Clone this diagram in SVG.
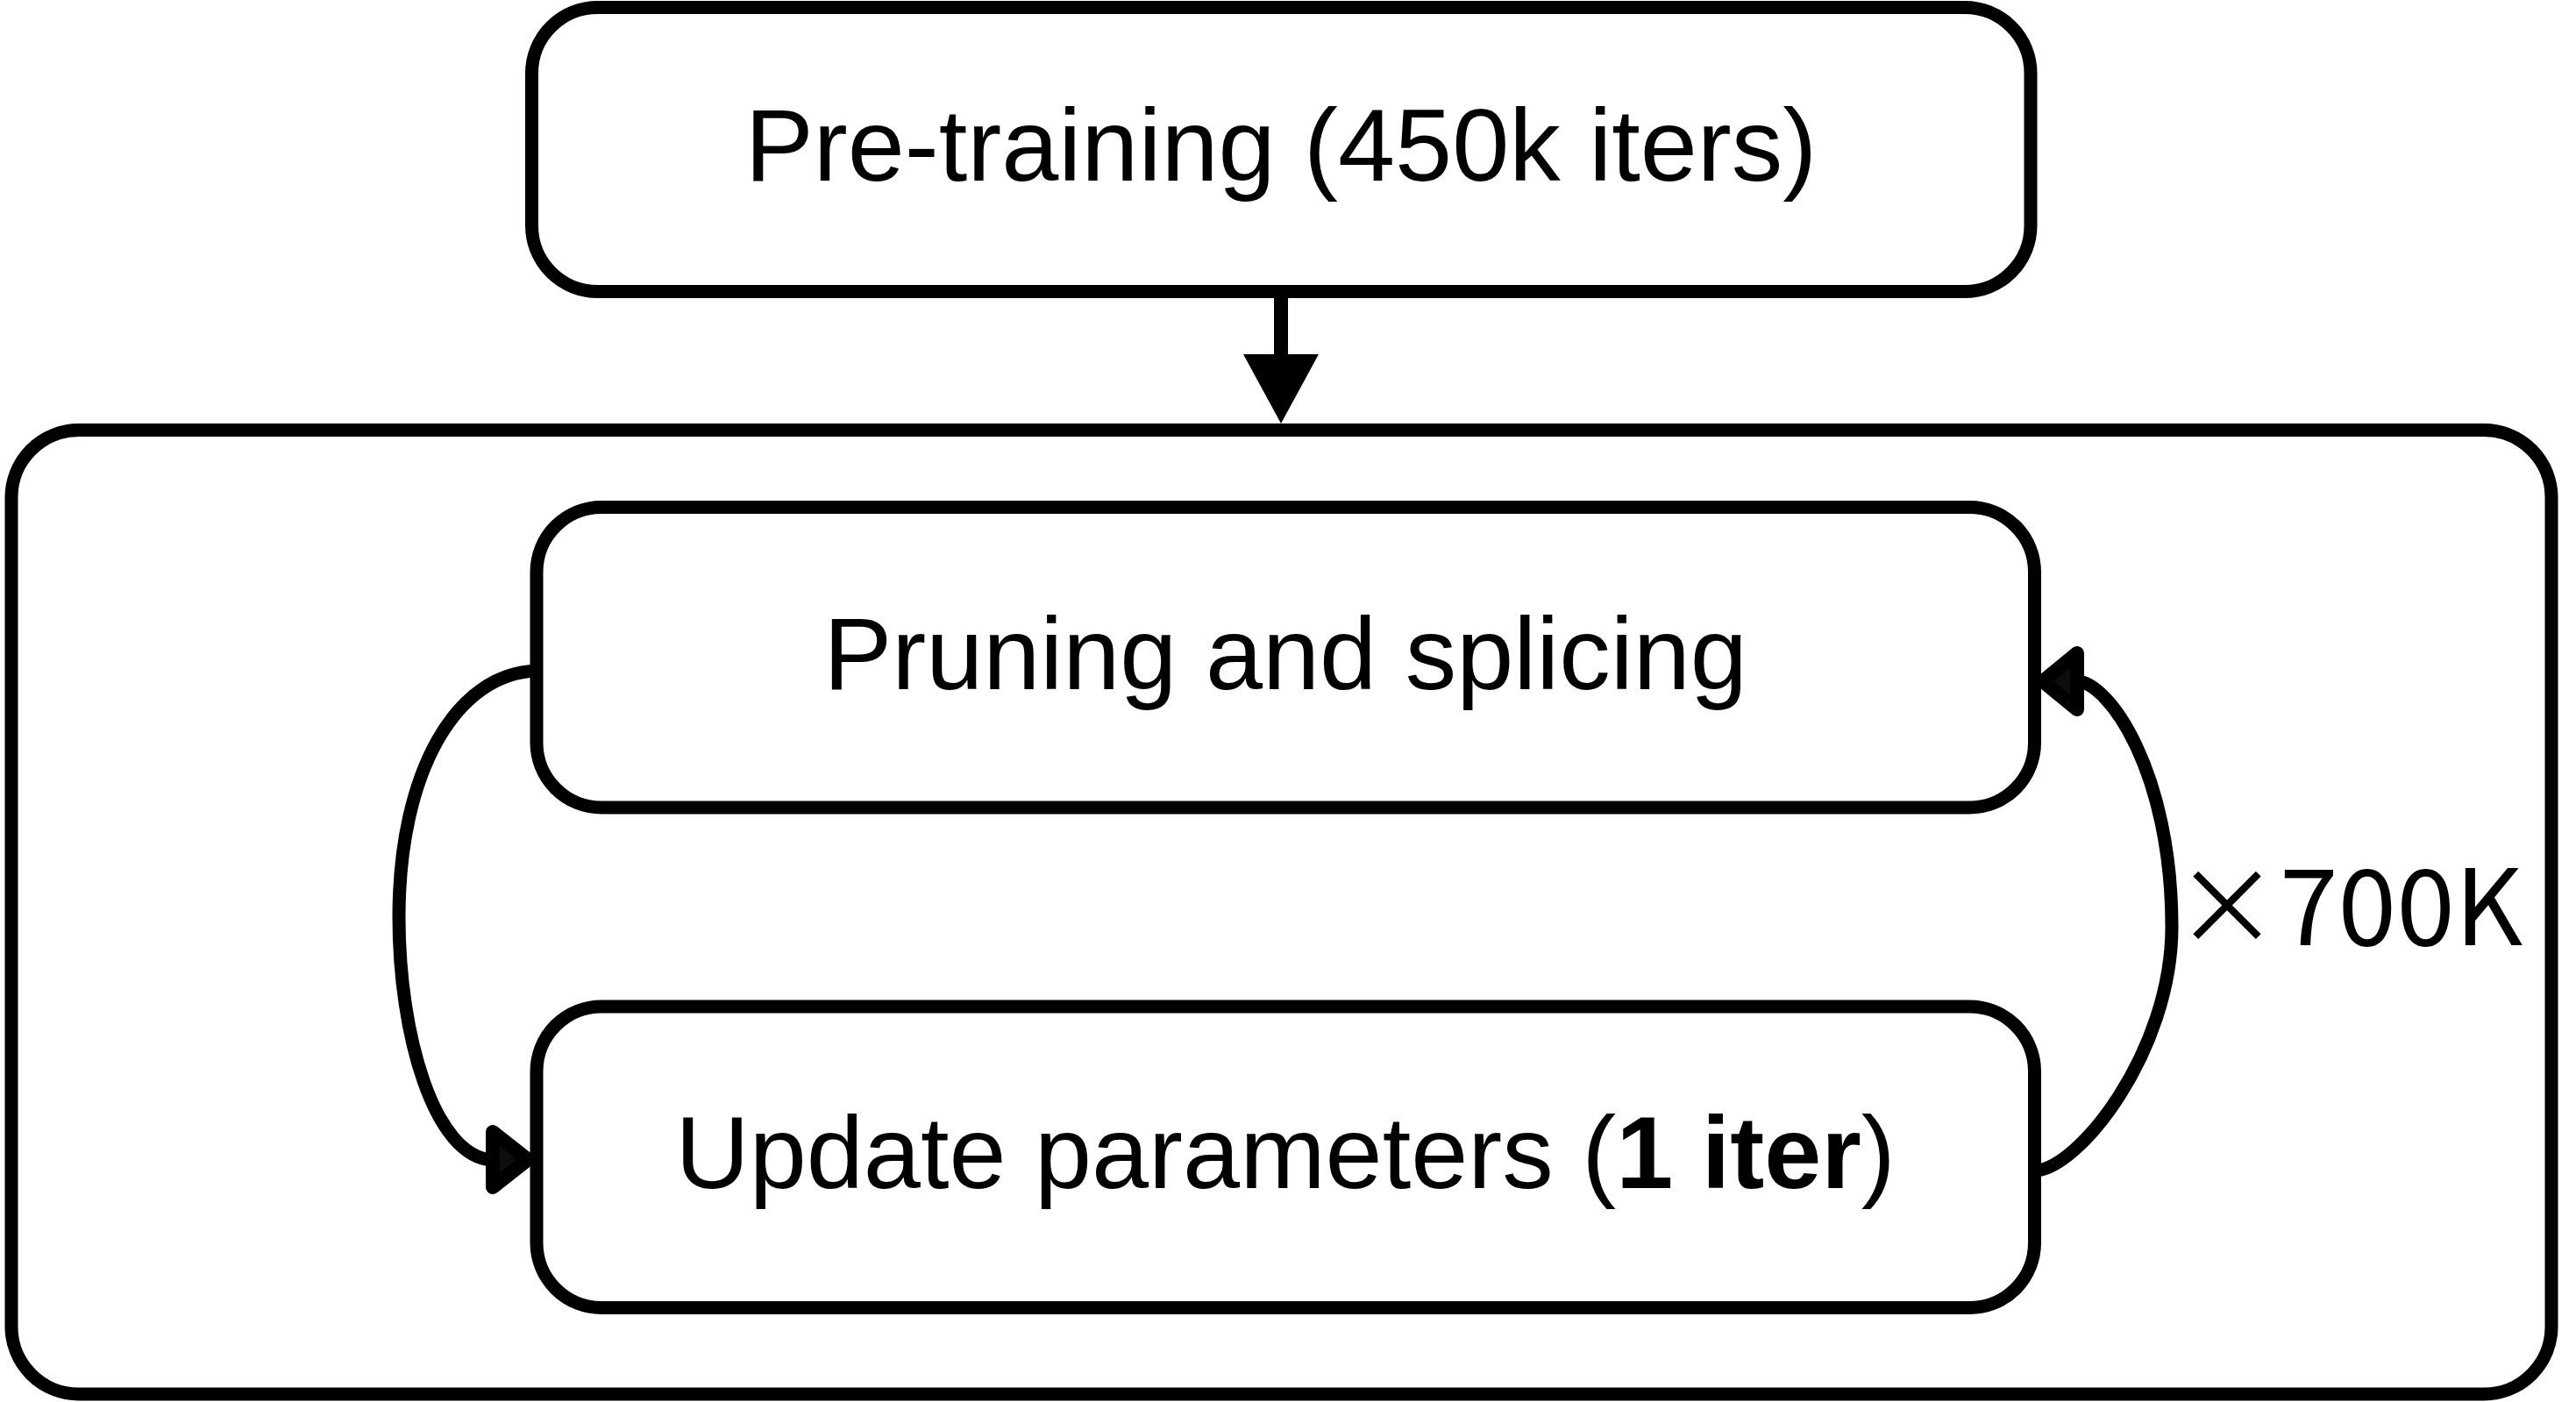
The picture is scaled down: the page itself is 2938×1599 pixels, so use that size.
<svg xmlns="http://www.w3.org/2000/svg" width="2938" height="1599" viewBox="0 0 2938 1599">
<style>
.box{fill:#fff;stroke:#000;stroke-width:15}
.lbl{font-family:"Liberation Sans",Arial,sans-serif;font-size:117px;fill:#000;text-anchor:middle}
.edge{fill:none;stroke:#000;stroke-width:15}
.head{fill:#0d0d0d;stroke:#000;stroke-width:16;stroke-linejoin:round}
.cnt{font-family:"Noto Sans CJK SC","Noto Sans",sans-serif;font-size:120px;fill:#000}
</style>
<rect width="2938" height="1599" fill="#fff"/>
<g id="loop">
<rect class="box" x="13" y="490.5" width="2897" height="1099.5" rx="77" ry="77"/>
</g>
<g id="pretrain">
<rect class="box" x="606.5" y="8.5" width="1709.5" height="324" rx="75" ry="75"/>
<text class="lbl" x="1461" y="206">Pre-training (450k iters)</text>
</g>
<g id="prune">
<rect class="box" x="612" y="578.5" width="1708.5" height="342.5" rx="74" ry="74"/>
<text class="lbl" x="1466" y="786">Pruning and splicing</text>
</g>
<g id="update">
<rect class="box" x="612" y="1148" width="1708.5" height="343.5" rx="74" ry="74"/>
<text class="lbl" x="1466" y="1355">Update parameters (<tspan font-weight="bold">1 iter</tspan>)</text>
</g>
<g id="connectors">
<line x1="1461" y1="340" x2="1461" y2="406" stroke="#000" stroke-width="16"/>
<polygon points="1418,404 1504,404 1461,483" fill="#000"/>
<path class="edge" d="M612,765 C520,768 455,880 455,1046 C455,1180 495,1320 562,1323"/>
<polygon class="head" points="562,1291 562,1354 602,1322.5"/>
<path class="edge" d="M2321,1335 C2370,1334 2477,1200 2477,1057 C2477,880 2405,778 2369,777"/>
<polygon class="head" points="2369,745 2369,809 2330,777"/>
<text class="cnt" x="2480" y="1078">×700K</text>
</g>
</svg>
